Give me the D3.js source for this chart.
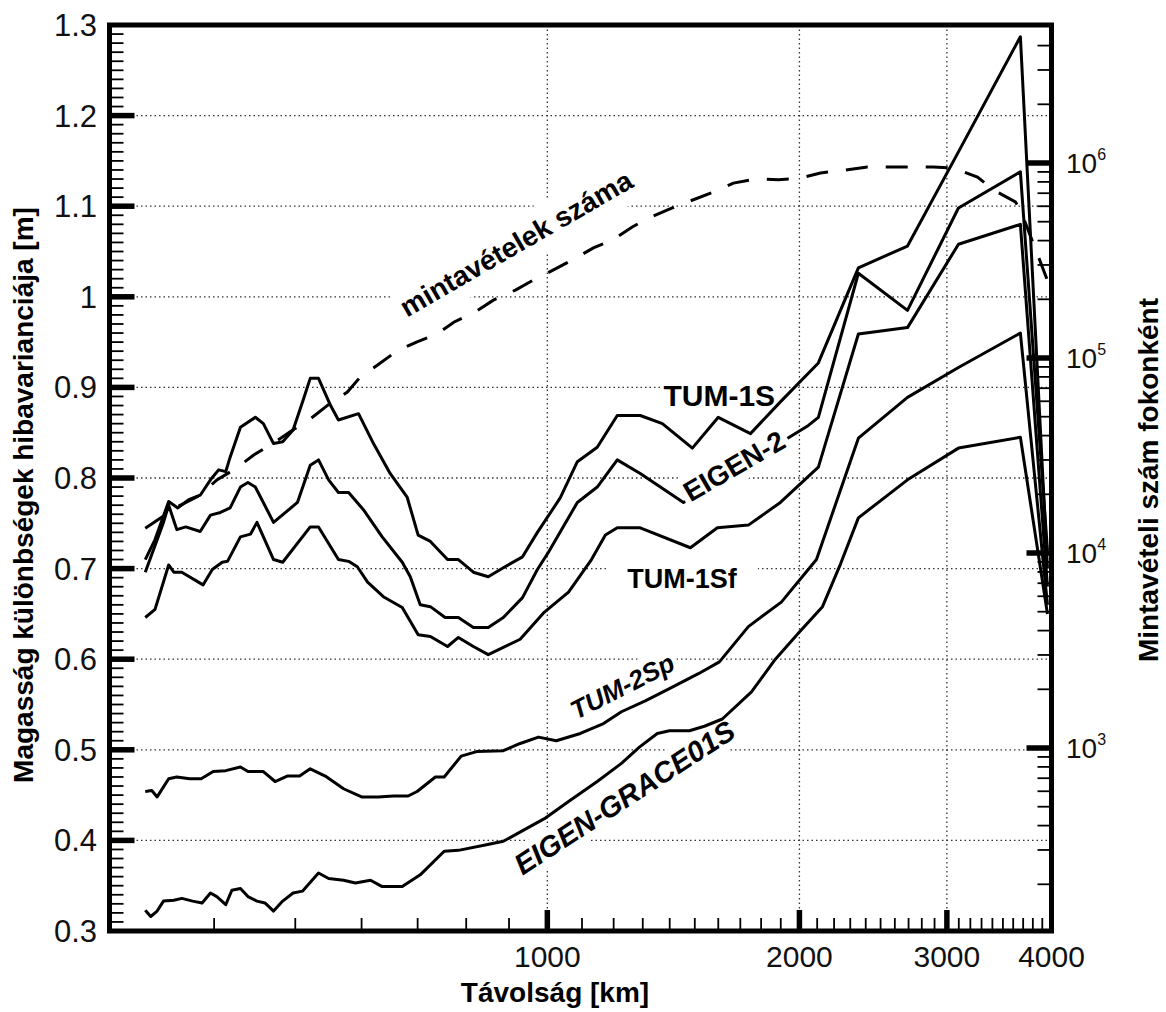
<!DOCTYPE html>
<html>
<head>
<meta charset="utf-8">
<script src="https://cdn.jsdelivr.net/npm/d3@7"></script>
<style>
  body { margin: 0; background: #fff; }
  text { font-family: "Liberation Sans", Arial, sans-serif; }
</style>
</head>
<body>
<svg id="chart" width="1166" height="1012"></svg>
<script>
// ── data ───────────────────────────────────────────────────────────
// distance in km, error variance in m, sample count per degree

const distTickValues = [1000, 2000, 3000, 4000];
const varTickValues = [0.3, 0.4, 0.5, 0.6, 0.7, 0.8, 0.9, 1.0, 1.1, 1.2, 1.3];
const varTickLabels = ['0.3', '0.4', '0.5', '0.6', '0.7', '0.8', '0.9', '1', '1.1', '1.2', '1.3'];
const countDecades = [3, 4, 5, 6];

const seriesNames = ['TUM-1S', 'EIGEN-2', 'TUM-1Sf', 'TUM-2Sp', 'EIGEN-GRACE01S'];
const countName = 'mintavételek száma';

const tum1S = [[331,0.710],[340,0.732],[353,0.774],[362,0.767],[373,0.776],[385,0.781],[396,0.798],[405,0.809],
  [413,0.807],[418,0.823],[430,0.856],[448,0.867],[458,0.860],[471,0.838],[483,0.840],[497,0.853],[511,0.886],
  [521,0.910],[533,0.910],[551,0.880],[563,0.864],[595,0.871],[620,0.838],[649,0.805],[680,0.779],[701,0.737],
  [725,0.730],[760,0.710],[783,0.710],[816,0.696],[850,0.691],[886,0.701],[934,0.713],[973,0.740],[1036,0.778],
  [1086,0.818],[1147,0.834],[1212,0.869],[1291,0.869],[1372,0.860],[1490,0.833],[1600,0.867],[1748,0.849],
  [1898,0.884],[2107,0.927],[2352,1.032],[2692,1.056],[3097,1.160],[3672,1.287],[3956,0.700]];

const eigen2 = [[331,0.696],[348,0.751],[353,0.770],[361,0.743],[370,0.746],[385,0.741],[396,0.759],[407,0.762],
  [418,0.767],[430,0.790],[439,0.795],[448,0.790],[471,0.751],[503,0.773],[521,0.814],[533,0.820],[548,0.798],
  [563,0.784],[579,0.784],[603,0.765],[635,0.735],[671,0.707],[686,0.691],[705,0.660],[725,0.658],[755,0.646],
  [783,0.646],[816,0.635],[850,0.635],[886,0.646],[934,0.668],[973,0.699],[1003,0.718],[1086,0.773],[1147,0.790],
  [1212,0.820],[1291,0.805],[1454,0.773],[2050,0.858],[2107,0.867],[2352,1.026],[2692,0.985],[3097,1.098],
  [3672,1.138],[3956,0.720]];

const tum1Sf = [[331,0.646],[340,0.655],[353,0.704],[358,0.696],[366,0.696],[388,0.682],[398,0.699],[409,0.707],
  [415,0.708],[430,0.735],[442,0.738],[450,0.751],[471,0.710],[483,0.707],[521,0.746],[533,0.746],[563,0.710],
  [579,0.708],[593,0.702],[610,0.685],[637,0.669],[671,0.657],[701,0.627],[725,0.625],[760,0.614],[783,0.624],
  [816,0.614],[850,0.605],[886,0.613],[928,0.622],[992,0.652],[1060,0.674],[1129,0.710],[1173,0.737],[1212,0.745],
  [1291,0.745],[1482,0.723],[1596,0.745],[1738,0.748],[1898,0.773],[2107,0.812],[2352,0.959],[2692,0.966],
  [3097,1.058],[3672,1.080],[3956,0.680]];

const tum2Sp = [[331,0.454],[337,0.455],[342,0.448],[353,0.468],[361,0.470],[374,0.468],[386,0.468],[399,0.476],
  [413,0.477],[430,0.481],[439,0.476],[458,0.476],[473,0.465],[489,0.471],[506,0.471],[521,0.479],[543,0.471],
  [571,0.457],[600,0.448],[628,0.448],[655,0.449],[682,0.449],[699,0.454],[735,0.470],[753,0.470],[789,0.493],
  [823,0.498],[886,0.499],[928,0.507],[976,0.514],[1025,0.510],[1095,0.518],[1167,0.529],[1226,0.542],[1309,0.554],
  [1395,0.567],[1515,0.584],[1605,0.597],[1738,0.636],[1903,0.663],[2096,0.710],[2352,0.844],[2692,0.889],
  [3097,0.922],[3672,0.960],[3956,0.660]];

const eigenGrace01S = [[331,0.323],[336,0.316],[342,0.322],[348,0.333],[358,0.334],[366,0.336],[377,0.333],
  [387,0.331],[396,0.342],[403,0.338],[413,0.329],[420,0.345],[430,0.347],[439,0.338],[450,0.333],[460,0.331],
  [471,0.322],[483,0.333],[497,0.342],[510,0.344],[518,0.351],[533,0.364],[548,0.358],[571,0.356],[590,0.353],
  [615,0.356],[635,0.349],[671,0.349],[705,0.362],[753,0.388],[783,0.389],[843,0.395],[886,0.399],[931,0.410],
  [992,0.424],[1060,0.443],[1147,0.465],[1226,0.485],[1288,0.503],[1353,0.518],[1399,0.521],[1478,0.521],
  [1540,0.526],[1618,0.534],[1753,0.564],[1872,0.600],[2000,0.630],[2131,0.658],[2239,0.705],[2352,0.756],
  [2692,0.798],[3097,0.833],[3672,0.845],[3956,0.650]];

const sampleCount = [[331,1.34e4],[361,1.72e4],[385,1.98e4],[403,2.37e4],[424,2.70e4],[446,3.18e4],[471,3.67e4],
  [497,4.28e4],[521,4.87e4],[551,5.88e4],[577,6.69e4],[598,8.0e4],[627,9.2e4],[662,1.09e5],[699,1.21e5],
  [739,1.33e5],[774,1.53e5],[820,1.72e5],[862,1.98e5],[916,2.23e5],[962,2.51e5],[1017,2.83e5],[1071,3.18e5],
  [1135,3.67e5],[1196,4.03e5],[1263,4.70e5],[1328,5.28e5],[1410,5.88e5],[1470,6.31e5],[1579,7.10e5],
  [1668,7.89e5],[1782,8.3e5],[1888,8.2e5],[2005,8.38e5],[2119,8.89e5],[2270,9.21e5],[2411,9.54e5],[2569,9.54e5],
  [2714,9.54e5],[2891,9.54e5],[3055,9.43e5],[3263,8.47e5],[3410,7.28e5],[3622,6.31e5],[3672,5.74e5],[3956,2.5e5]];

const seriesData = [tum1S, eigen2, tum1Sf, tum2Sp, eigenGrace01S];

// ── layout ─────────────────────────────────────────────────────────
// label anchors (km, m), rotation and font, hand placed next to the curves
const labelLayout = {
  'mintavételek száma': { km: 680, val: 0.977, angle: -30, size: 28, italic: false, padX: 4, padY: 8 },
  'TUM-1S':             { km: 1376, val: 0.880, angle: 0, size: 30, italic: false, padX: 3, padY: 0 },
  'EIGEN-2':            { km: 1482, val: 0.773, angle: -30, size: 28, italic: false, padX: 4, padY: 2, onTop: true },
  'TUM-1Sf':            { km: 1246, val: 0.679, angle: 0, size: 27, italic: false, padX: 20, padY: 0 },
  'TUM-2Sp':            { km: 1083, val: 0.533, angle: -27, size: 26, italic: true, padX: 4, padY: 2 },
  'EIGEN-GRACE01S':     { km: 934, val: 0.361, angle: -33, size: 29, italic: true, padX: 4, padY: 1 }
};

const svg = d3.select('#chart');
const width = 1166, height = 1012;

svg.append('rect').attr('width', width).attr('height', height).attr('fill', '#fff');

const x = d3.scaleLog().domain([300, 4000]).range([109.5, 1051.5]);
const y = d3.scaleLinear().domain([0.3, 1.3]).range([931, 25]);
const yCount = d3.scaleLog().domain([1e3, 1e6]).range([748, 163]);

const plotLeft = x(300), plotRight = x(4000), plotTop = y(1.3), plotBottom = y(0.3);

const gridLayer = svg.append('g');
const bgLayer = svg.append('g');
const curveLayer = svg.append('g');
const topBgLayer = svg.append('g');
const labelLayer = svg.append('g');
const axisLayer = svg.append('g');

// 1) dotted grid
const dotted = sel => sel.attr('stroke', '#333').attr('stroke-width', 1.3).attr('stroke-dasharray', '1.5,3');

gridLayer.selectAll('line.hgrid')
    .data(varTickValues.slice(1, -1))
    .join('line')
    .attr('class', 'hgrid')
    .attr('x1', plotLeft).attr('x2', plotRight)
    .attr('y1', d => y(d)).attr('y2', d => y(d))
    .call(dotted);

gridLayer.selectAll('line.vgrid')
    .data(distTickValues.slice(0, 3))
    .join('line')
    .attr('class', 'vgrid')
    .attr('x1', d => x(d)).attr('x2', d => x(d))
    .attr('y1', plotTop).attr('y2', plotBottom)
    .call(dotted);

// 2) curve labels (white boxes knock out the grid)
const labelNames = [countName, ...seriesNames];
labelNames.forEach(name => {
    const L = labelLayout[name];
    const tr = `translate(${x(L.km)},${y(L.val)}) rotate(${L.angle})`;
    const t = labelLayer.append('text')
        .attr('transform', tr)
        .attr('font-size', L.size)
        .attr('font-weight', 'bold')
        .attr('font-style', L.italic ? 'italic' : 'normal')
        .attr('fill', '#000')
        .text(name);
    const b = t.node().getBBox();
    (L.onTop ? topBgLayer : bgLayer).append('rect')
        .attr('transform', tr)
        .attr('x', b.x - L.padX).attr('y', b.y - L.padY)
        .attr('width', b.width + 2 * L.padX).attr('height', b.height + 2 * L.padY)
        .attr('fill', '#fff');
});

// 3) curves
const line = d3.line().x(d => x(d[0])).y(d => y(d[1]));
curveLayer.selectAll('path.series')
    .data(seriesData)
    .join('path')
    .attr('class', 'series')
    .attr('d', line)
    .attr('fill', 'none')
    .attr('stroke', '#000')
    .attr('stroke-width', 3)
    .attr('stroke-linejoin', 'round');

const countLine = d3.line().x(d => x(d[0])).y(d => yCount(d[1]));
curveLayer.append('path')
    .datum(sampleCount)
    .attr('d', countLine)
    .attr('fill', 'none')
    .attr('stroke', '#000')
    .attr('stroke-width', 3)
    .attr('stroke-dasharray', '22,18');

// 4) ticks (all point inward)
const tick = (sel, w) => sel.attr('stroke', '#000').attr('stroke-width', w);

const minorVar = d3.range(31, 130).filter(i => i % 10 !== 0).map(i => i / 100);
axisLayer.selectAll('line.yminor').data(minorVar).join('line')
    .attr('x1', plotLeft).attr('x2', plotLeft + 14)
    .attr('y1', d => y(d)).attr('y2', d => y(d))
    .call(tick, 1.8);
axisLayer.selectAll('line.ymajor').data(varTickValues.slice(1, -1)).join('line')
    .attr('x1', plotLeft).attr('x2', plotLeft + 25)
    .attr('y1', d => y(d)).attr('y2', d => y(d))
    .call(tick, 5.5);

const minorDist = d3.range(400, 4000, 100).filter(v => v % 1000 !== 0);
axisLayer.selectAll('line.xminor').data(minorDist).join('line')
    .attr('x1', d => x(d)).attr('x2', d => x(d))
    .attr('y1', plotBottom).attr('y2', plotBottom - 13)
    .call(tick, 1.8);
axisLayer.selectAll('line.xmajor').data(distTickValues.slice(0, 3)).join('line')
    .attr('x1', d => x(d)).attr('x2', d => x(d))
    .attr('y1', plotBottom).attr('y2', plotBottom - 21)
    .call(tick, 5.5);

const minorCount = [];
[2, 3, 4, 5, 6].forEach(e => d3.range(2, 10).forEach(k => minorCount.push(k * Math.pow(10, e))));
axisLayer.selectAll('line.rminor')
    .data(minorCount.filter(v => yCount(v) > plotTop + 3 && yCount(v) < plotBottom - 3))
    .join('line')
    .attr('x1', plotRight).attr('x2', plotRight - 14)
    .attr('y1', d => yCount(d)).attr('y2', d => yCount(d))
    .call(tick, 1.8);
axisLayer.selectAll('line.rmajor').data(countDecades).join('line')
    .attr('x1', plotRight).attr('x2', plotRight - 25)
    .attr('y1', d => yCount(Math.pow(10, d))).attr('y2', d => yCount(Math.pow(10, d)))
    .call(tick, 5.5);

// frame
axisLayer.append('rect')
    .attr('x', plotLeft).attr('y', plotTop)
    .attr('width', plotRight - plotLeft).attr('height', plotBottom - plotTop)
    .attr('fill', 'none')
    .attr('stroke', '#000')
    .attr('stroke-width', 5);

// 5) tick labels
axisLayer.selectAll('text.ylab').data(varTickValues).join('text')
    .attr('x', 97).attr('y', d => y(d) + 11)
    .attr('text-anchor', 'end')
    .attr('font-size', 31)
    .attr('fill', '#111')
    .text((d, i) => varTickLabels[i]);

axisLayer.selectAll('text.xlab').data(distTickValues).join('text')
    .attr('x', d => x(d)).attr('y', 967)
    .attr('text-anchor', 'middle')
    .attr('font-size', 30)
    .attr('fill', '#111')
    .text(d => d);

const rlab = axisLayer.selectAll('text.rlab').data(countDecades).join('text')
    .attr('x', 1066).attr('y', d => yCount(Math.pow(10, d)) + 10)
    .attr('font-size', 28)
    .attr('fill', '#111');
rlab.append('tspan').text('10');
rlab.append('tspan').attr('font-size', 16).attr('dy', -13).text(d => d);

// 6) axis titles
axisLayer.append('text')
    .attr('x', 555).attr('y', 1002)
    .attr('text-anchor', 'middle')
    .attr('font-size', 28).attr('font-weight', 'bold')
    .text('Távolság [km]');

axisLayer.append('text')
    .attr('transform', 'translate(33,495) rotate(-90)')
    .attr('text-anchor', 'middle')
    .attr('font-size', 28).attr('font-weight', 'bold')
    .text('Magasság különbségek hibavarianciája [m]');

axisLayer.append('text')
    .attr('transform', 'translate(1158,480) rotate(-90)')
    .attr('text-anchor', 'middle')
    .attr('font-size', 28).attr('font-weight', 'bold')
    .text('Mintavételi szám fokonként');
</script>
</body>
</html>
